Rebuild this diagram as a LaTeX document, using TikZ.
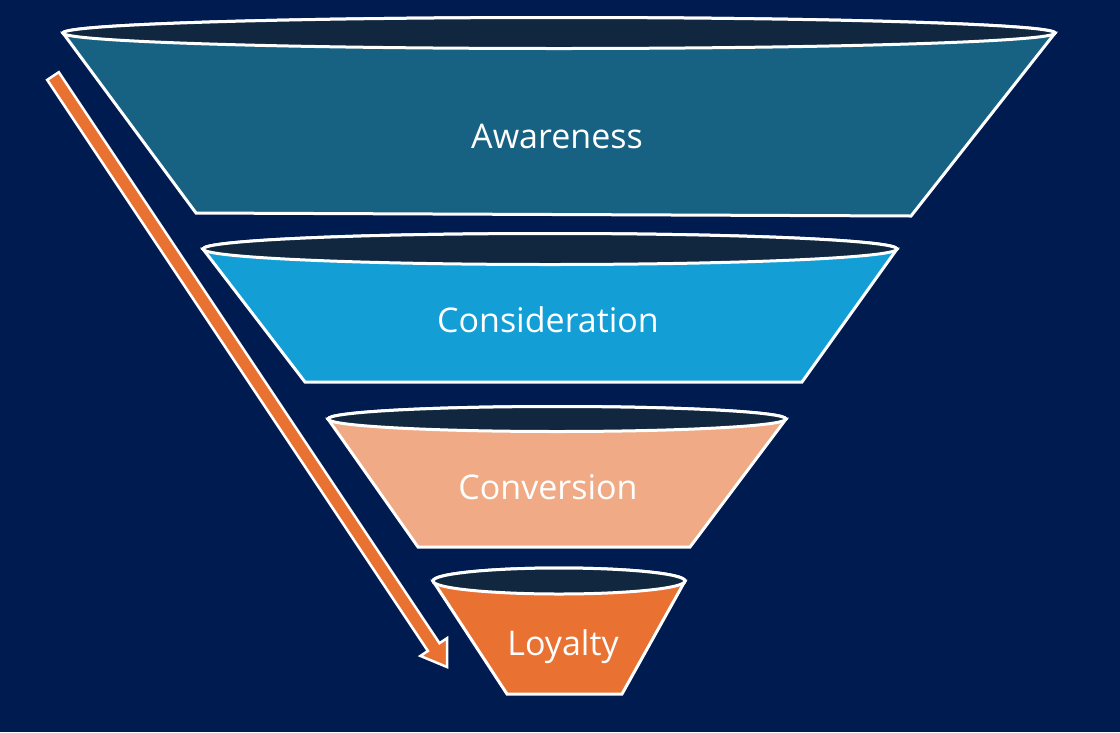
\documentclass[tikz,border=0pt]{standalone}
\usepackage{fontspec}
\setmainfont[Ligatures=NoCommon]{Open Sans}
\usetikzlibrary{calc,shapes.geometric}
\definecolor{bg}{RGB}{0,27,80}
\definecolor{rim}{RGB}{16,39,63}
\definecolor{fa}{RGB}{23,98,130}
\definecolor{fb}{RGB}{19,159,214}
\definecolor{fc}{RGB}{240,170,133}
\definecolor{fd}{RGB}{233,113,50}
\tikzset{
  rimstyle/.style={ellipse, draw=white, line width=3pt, fill=rim, inner sep=0pt, outer sep=0pt},
  bodystyle/.style={draw=white, line width=3pt, line join=miter},
  label/.style={text=white, font=\fontsize{34}{40}\selectfont},
}
\begin{document}
\begin{tikzpicture}[x=1pt,y=-1pt]
\useasboundingbox (0,0) rectangle (1120,732);
\fill[bg] (0,0) rectangle (1120,732);
% arrow
\coordinate (as) at (53,76);
\coordinate (ae) at (447,667);
\coordinate (ah) at ($(ae)!24pt!(as)$);
\draw[bodystyle, line width=2.5pt, fill=fd]
  ($(as)!7pt!90:(ae)$) -- ($(ah)!7pt!90:(ae)$) -- ($(ah)!16pt!90:(ae)$) -- (ae)
  -- ($(ah)!16pt!-90:(ae)$) -- ($(ah)!7pt!-90:(ae)$) -- ($(as)!7pt!-90:(ae)$) -- cycle;
% funnel 1
\node[rimstyle, minimum width=992pt, minimum height=31pt] (r1) at (559,33) {};
\coordinate (b1l) at (196,213);
\coordinate (b1r) at (911,216);
\draw[bodystyle, fill=fa] (r1.west) -- (b1l) -- (b1r) -- (r1.east) -- cycle;
\node[rimstyle, minimum width=992pt, minimum height=31pt] at (559,33) {};
\node[label] (t1) at (557,136) {Awareness};
% funnel 2
\coordinate (b2l) at (305,382);
\coordinate (b2r) at (802,382);
\node[rimstyle, minimum width=694pt, minimum height=31pt] (r2) at (550,249) {};
\draw[bodystyle, fill=fb] (r2.west) -- (b2l) -- (b2r) -- (r2.east) -- cycle;
\node[rimstyle, minimum width=694pt, minimum height=31pt] at (550,249) {};
\node[label] (t2) at (548,320) {Consideration};
% funnel 3
\coordinate (b3l) at (418,547);
\coordinate (b3r) at (690,547);
\node[rimstyle, minimum width=458pt, minimum height=25pt] (r3) at (557,419) {};
\draw[bodystyle, fill=fc] (r3.west) -- (b3l) -- (b3r) -- (r3.east) -- cycle;
\node[rimstyle, minimum width=458pt, minimum height=25pt] at (557,419) {};
\node[label] (t3) at (548,487) {Conversion};
% funnel 4
\coordinate (b4l) at (507,694);
\coordinate (b4r) at (622,694);
\node[rimstyle, minimum width=252pt, minimum height=26pt] (r4) at (559,581) {};
\draw[bodystyle, fill=fd] (r4.west) -- (b4l) -- (b4r) -- (r4.east) -- cycle;
\node[rimstyle, minimum width=252pt, minimum height=26pt] at (559,581) {};
\node[label] (t4) at (563,647) {Loyalty};
\end{tikzpicture}
\end{document}
